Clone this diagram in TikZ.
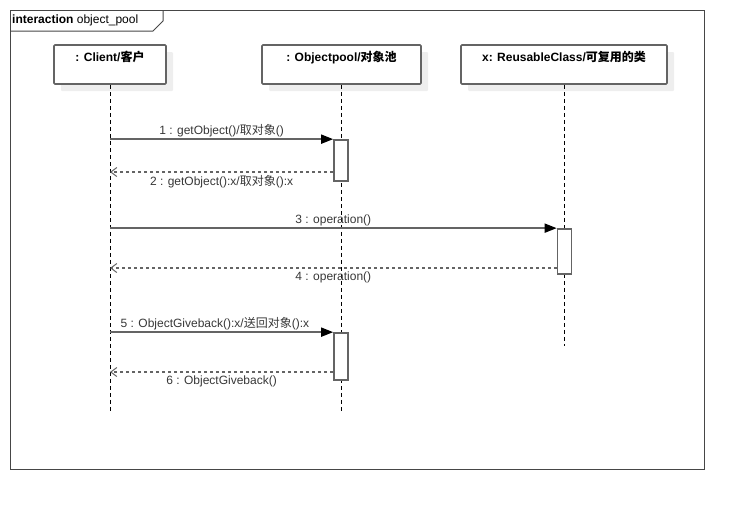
\documentclass[tikz,border=0pt]{standalone}
\usepackage{fontspec}
\setmainfont{Liberation Sans}
\newfontfamily\cjk{Noto Sans CJK SC}
\usetikzlibrary{arrows.meta, positioning, shadows}

\definecolor{linegray}{RGB}{100,100,100}
\definecolor{framegray}{RGB}{70,70,70}
\definecolor{textgray}{RGB}{55,55,55}
\definecolor{shadowgray}{RGB}{238,238,238}

\begin{document}
\begin{tikzpicture}[x=1pt, y=-1pt, font=\fontsize{12}{14}\selectfont,
    lifebox/.style={draw=linegray, line width=1.7pt, fill=white, rounded corners=1pt,
        minimum height=39pt, inner sep=0pt,
        copy shadow={shadow xshift=7pt, shadow yshift=-7pt, draw=none, fill=shadowgray}},
    headname/.style={font=\fontsize{12}{14}\selectfont\bfseries, inner sep=0pt},
    actbox/.style={draw=linegray, line width=1.7pt, fill=white, minimum width=14pt, inner sep=0pt},
    lifeline/.style={black, line width=0.9pt, dash pattern=on 4pt off 3pt},
    call/.style={linegray, line width=1.7pt, -{Triangle[length=12pt, width=9pt, black]}},
    ret/.style={linegray, line width=1.4pt, dash pattern=on 3pt off 3pt, -{Straight Barb[length=6pt, width=9pt, line width=1pt]}},
    msglabel/.style={text=textgray, inner sep=2pt}
]
    \useasboundingbox (0,0) rectangle (744,509);

    % Frame
    \draw[framegray, line width=1pt] (10,10) rectangle (704,469);
    \draw[framegray, line width=1pt] (10,31) -- (153,31) -- (163,21) -- (163,10);
    \node[anchor=west, inner sep=0pt] (title) at (12,20.5) {\textbf{interaction} object\_pool};

    % Lifeline heads
    \node[lifebox, minimum width=112pt] (client) at (110,64.5) {};
    \node[lifebox, minimum width=159pt] (pool) at (341.5,64.5) {};
    \node[lifebox, minimum width=206pt] (reuse) at (564,64.5) {};
    \node[headname, below=7pt of client.north] (clientname) {: Client/{\cjk 客户}};
    \node[headname, below=7pt of pool.north] (poolname) {: Objectpool/{\cjk 对象池}};
    \node[headname, below=7pt of reuse.north] (reusename) {x: ReusableClass/{\cjk 可复用的类}};

    % Lifelines
    \coordinate (clientend) at (client |- 0,411);
    \coordinate (poolend) at (pool |- 0,411);
    \coordinate (reuseend) at (reuse |- 0,346);
    \draw[lifeline] (client.south) -- (clientend);
    \draw[lifeline] (pool.south) -- (poolend);
    \draw[lifeline] (reuse.south) -- (reuseend);

    % Activations
    \node[actbox, minimum height=41pt] (act1) at (341,160.5) {};
    \node[actbox, minimum height=45pt] (act2) at (564.5,251.5) {};
    \node[actbox, minimum height=47pt] (act3) at (341,356.5) {};

    % Messages
    \coordinate (m1) at (client |- act1.north);
    \coordinate (r1) at (act1.west |- 0,172);
    \coordinate (r1end) at (client |- 0,172);
    \coordinate (m2) at (client |- act2.north);
    \coordinate (r2) at (act2.west |- 0,268);
    \coordinate (r2end) at (client |- 0,268);
    \coordinate (m3) at (client |- act3.north);
    \coordinate (r3) at (act3.west |- 0,372);
    \coordinate (r3end) at (client |- 0,372);

    \draw[call] (m1) -- (act1.north west) node[msglabel, midway, above, yshift=-1pt] {1 : getObject()/{\cjk 取对象}()};
    \draw[ret] (r1) -- (r1end) node[msglabel, midway, below, yshift=-1pt] {2 : getObject():x/{\cjk 取对象}():x};
    \draw[call] (m2) -- (act2.north west) node[msglabel, midway, above, yshift=-1pt] {3 : operation()};
    \draw[ret] (r2) -- (r2end) node[msglabel, midway, below, yshift=-1pt] {4 : operation()};
    \draw[call] (m3) -- (act3.north west) node[msglabel, pos=0.47, above, yshift=-1pt] {5 : ObjectGiveback():x/{\cjk 送回对象}():x};
    \draw[ret] (r3) -- (r3end) node[msglabel, midway, below, yshift=-1pt] {6 : ObjectGiveback()};
\end{tikzpicture}
\end{document}
